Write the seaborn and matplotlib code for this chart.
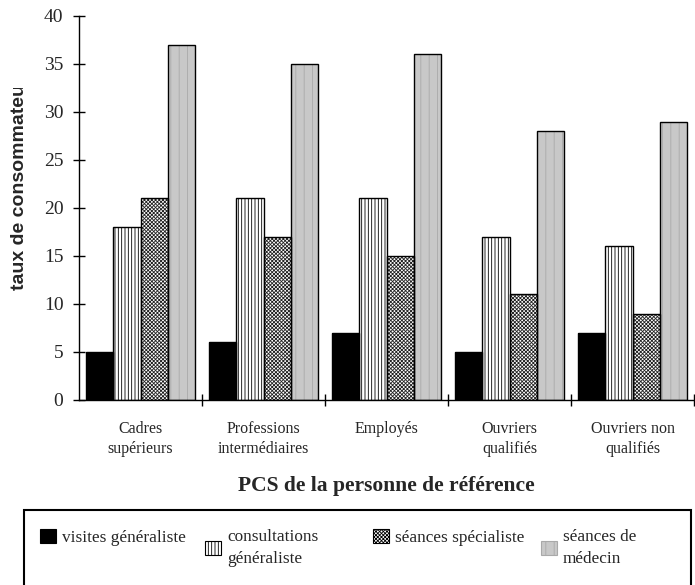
import matplotlib
matplotlib.use("Agg")
import matplotlib.pyplot as plt
import seaborn as sns
import pandas as pd
from matplotlib.patches import Rectangle
from matplotlib.transforms import Bbox, TransformedBbox
from matplotlib.ticker import FixedLocator

# ---- data ----
categories = ["Cadres\nsupérieurs", "Professions\nintermédiaires", "Employés",
              "Ouvriers\nqualifiés", "Ouvriers non\nqualifiés"]
series = ["visites généraliste", "consultations généraliste",
          "séances spécialiste", "séances de médecin"]
legend_labels = ["visites généraliste", "consultations\ngénéraliste",
                 "séances spécialiste", "séances de\nmédecin"]
visites = [5, 6, 7, 5, 7]
consultations = [18, 21, 21, 17, 16]
specialiste = [21, 17, 15, 11, 9]
medecin = [37, 35, 36, 28, 29]
yticks = [0, 5, 10, 15, 20, 25, 30, 35, 40]
xlabel = "PCS de la personne de référence"
ylabel = "taux de consommateurs"

# ---- styling ----
sns.set_style("white")
plt.rcParams["font.family"] = ["Liberation Serif", "DejaVu Serif"]
plt.rcParams["hatch.linewidth"] = 0.6

faces = ["black", "white", "white", "#c8c8c8"]
hatches = [None, "|||||", "xxxxxxxxx", "||"]
hatch_cols = ["black", "black", "#222222", "#a9a9a9"]

df = pd.DataFrame({
    "PCS": categories * 4,
    "serie": [s for s in series for _ in categories],
    "taux": visites + consultations + specialiste + medecin,
})

W, H = 695, 585
fig = plt.figure(figsize=(W / 100, H / 100), dpi=100)
ax = fig.add_axes([79 / W, 1 - 400 / H, (694 - 79) / W, 384 / H])

sns.barplot(data=df, x="PCS", y="taux", hue="serie", order=categories,
            hue_order=series, palette=faces, width=0.89, saturation=1,
            errorbar=None, legend=False, ax=ax)

for i, cont in enumerate(ax.containers):
    for p in cont.patches:
        p.set_hatch(hatches[i])
        p.set_edgecolor(hatch_cols[i])
        p.set_linewidth(0)
        ax.add_patch(Rectangle(p.get_xy(), p.get_width(), p.get_height(),
                               fill=False, edgecolor="black", linewidth=1.0,
                               zorder=p.get_zorder() + 0.1))

ax.set_xlim(-0.5, 4.5)
ax.set_ylim(0, 40)
ax.set_yticks(yticks)
ax.set_ylabel("")
for s in ["top", "right"]:
    ax.spines[s].set_visible(False)
for s in ["left", "bottom"]:
    ax.spines[s].set_color("black")
    ax.spines[s].set_linewidth(1.0)

ax.tick_params(axis="y", direction="inout", length=8.5, width=1.0,
               color="black", pad=7, labelsize=14, left=True)
ax.tick_params(axis="x", which="major", length=0, pad=15, labelsize=11.5)
ax.xaxis.set_minor_locator(FixedLocator([0.5, 1.5, 2.5, 3.5, 4.5]))
ax.tick_params(axis="x", which="minor", direction="inout", length=8.5,
               width=1.0, color="black", bottom=True)
for t in ax.get_xticklabels():
    t.set_linespacing(1.35)

ax.set_xlabel(xlabel, fontsize=15.5, fontweight="bold")
ax.xaxis.set_label_coords(0.5, -86 / 384)
ax.xaxis.label.set_va("center")

# y label, clipped at the top like in the reference
yl = fig.text(20 / W, 1 - 290 / H, ylabel, rotation=90, ha="center",
              va="bottom", fontsize=14, fontweight="bold",
              family=["Liberation Sans", "DejaVu Sans"])
yl.set_clip_on(True)
yl.set_clip_box(TransformedBbox(Bbox([[0, 0], [1, 1 - 88 / H]]),
                                fig.transFigure))

# legend frame
fig.add_artist(Rectangle((24 / W, -0.1), (691 - 24) / W, (1 - 510 / H) + 0.1,
                         transform=fig.transFigure, fill=False,
                         edgecolor="black", linewidth=1.5))

fs = 12.4
fpx = fs * 100 / 72
marker_x = [40, 205, 373, 541]
for i in range(4):
    h = Rectangle((0, 0), 1, 1, facecolor=faces[i], hatch=hatches[i],
                  edgecolor=hatch_cols[i] if i == 3 else "black",
                  linewidth=0.8)
    leg = fig.legend(handles=[h], labels=[legend_labels[i]], loc="upper left",
                     bbox_to_anchor=(marker_x[i] / W, 1 - 529 / H),
                     frameon=False, fontsize=fs, borderpad=0, borderaxespad=0,
                     handlelength=16 / fpx, handleheight=15 / fpx,
                     handletextpad=6 / fpx, labelspacing=0)
    for t in leg.get_texts():
        t.set_linespacing(1.5)

fig.savefig("out.png", dpi=100)
